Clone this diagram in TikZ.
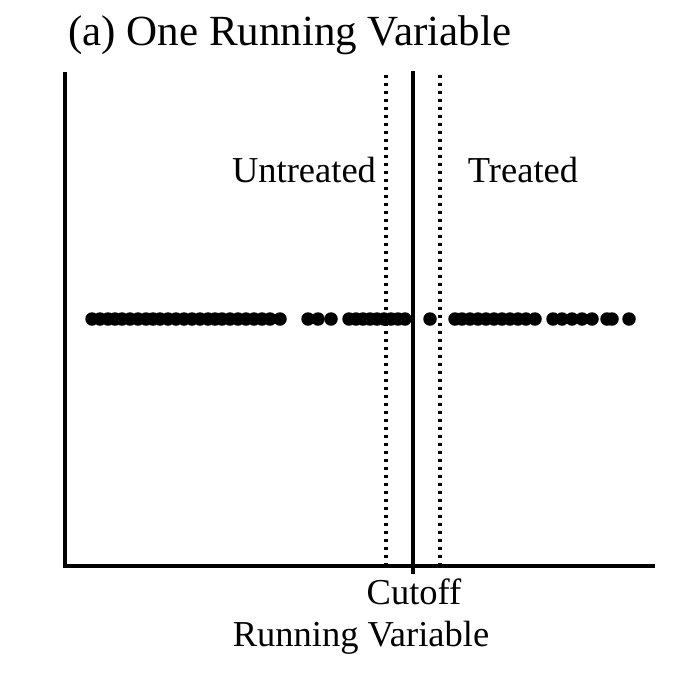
\documentclass[tikz,border=0pt]{standalone}
\usepackage{fontspec}
\setmainfont{Liberation Serif}
\tikzset{
  axisline/.style={line width=3.4pt},
  cutline/.style={line width=3.4pt},
  dotline/.style={line width=3.4pt, dash pattern=on 3.4pt off 4.6pt},
  datadot/.style={circle, fill=black, inner sep=0pt, minimum size=13.5pt},
  lbl/.style={anchor=base, inner sep=0pt, font=\fontsize{36.5}{40}\selectfont},
  ttl/.style={anchor=base west, inner sep=0pt, font=\fontsize{43}{46}\selectfont}
}
\begin{document}
\begin{tikzpicture}[x=1pt,y=-1pt]
\useasboundingbox (0,0) rectangle (679,672);
\node[ttl] (title) at (68,45) {(a) One Running Variable};
% axes
\draw[axisline] (65,72) -- (65,566) -- (655,566);
% cutoff and bandwidth lines
\draw[cutline] (413,71) -- (413,574);
\draw[dotline] (386,75) -- (386,566);
\draw[dotline] (440,75) -- (440,566);
% labels
\node[lbl] (untr) at (304,182) {Untreated};
\node[lbl] (tr) at (523,182) {Treated};
\node[lbl] (cut) at (414,604) {Cutoff};
\node[lbl] (rv) at (361,646) {Running Variable};
% data dots
\foreach \x in {92,100,108,115,122,130,138,146,153,160,168,176,184,192,200,208,215,222,230,238,246,254,262,270,280,
  308,318,331,
  349,356,363,370,377,384,391,398,405,
  430,
  455,462,470,478,486,494,502,510,518,526,535,
  553,562,572,582,592,
  607,612,629}
  \node[datadot] at (\x,319) {};
\end{tikzpicture}
\end{document}
